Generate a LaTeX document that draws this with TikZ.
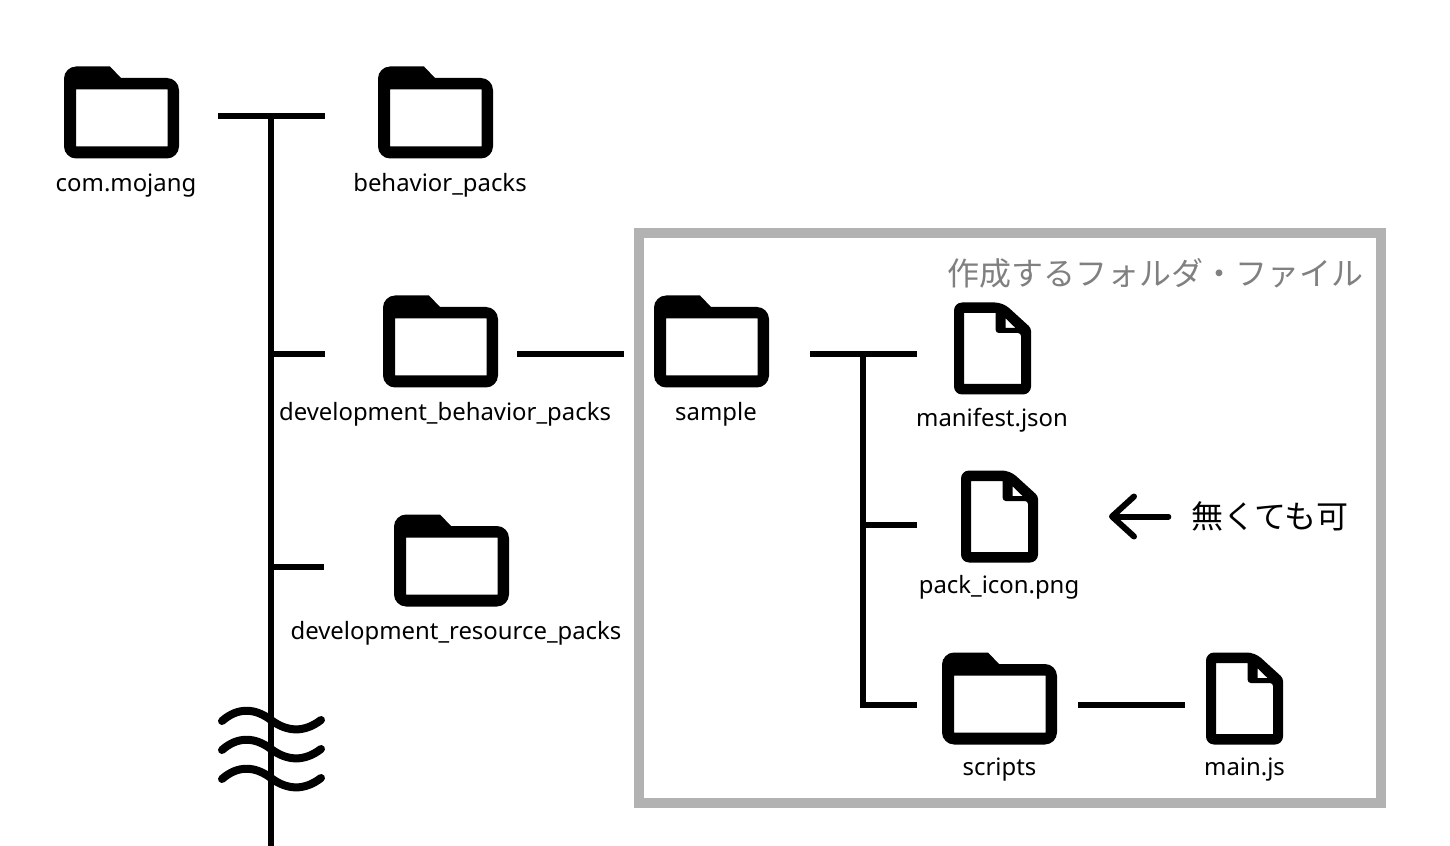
\documentclass[tikz,border=0pt]{standalone}
\usepackage{fontspec}
\setmainfont{Noto Sans}
\newfontfamily\jpfont{Noto Sans CJK JP}
\usetikzlibrary{arrows.meta}
\def\px{0.2mm}

\begin{document}
\begin{tikzpicture}[x=\px,y=-\px,line width=6*\px,
    lbl/.style={anchor=base,inner sep=0,font=\fontsize{13.6pt}{16pt}\selectfont},
    folder/.style={minimum width=115*\px,minimum height=92*\px,inner sep=0,outer sep=0,
        path picture={
            \fill[shift={(path picture bounding box.center)},even odd rule]
                (-45.5,-46) -- (-11.5,-46) -- (-0.5,-34.5) -- (45.5,-34.5)
                .. controls (52,-34.5) and (57.5,-29) .. (57.5,-22.5) -- (57.5,34)
                .. controls (57.5,40.5) and (52,46) .. (45.5,46) -- (-45.5,46)
                .. controls (-52,46) and (-57.5,40.5) .. (-57.5,34) -- (-57.5,-34)
                .. controls (-57.5,-40.5) and (-52,-46) .. (-45.5,-46) -- cycle
                (-45.5,-23) rectangle (46,34);
        }},
    document/.style={minimum width=77*\px,minimum height=92*\px,inner sep=0,outer sep=0,
        path picture={
            \fill[shift={(path picture bounding box.center)},even odd rule]
                [rounded corners=1.6mm] (-38.5,0) |- (10.5,-46) [rounded corners=0.6mm] -- (38.5,-20.5)
                [rounded corners=1.6mm] |- (-38.5,46) -- cycle
                [sharp corners] (-28.5,-35.5) -- (3.2,-35.5) [rounded corners=0.6mm] -- (3.2,-15.5)
                -- (28.5,-15.5) [sharp corners] -- (28.5,35.5) -- (-28.5,35.5) -- cycle
                (13.2,-30.2) -- (13.2,-20.5) -- (23,-20.5) -- cycle;
        }}]
\useasboundingbox (0,0) rectangle (1450,846);

% selection frame
\node[draw=black!30,line width=10*\px,minimum width=742*\px,minimum height=570*\px,inner sep=0] (frame) at (1010,518) {};
\node[anchor=east,inner sep=0,text=black!50,font=\jpfont\fontsize{18.2pt}{22pt}\selectfont] (title) at (1366,273) {作成するフォルダ・ファイル};

\node[folder] (root) at (121.5,112.5) {};
\node[folder] (behavior) at (435.5,112.5) {};
\node[folder] (devbehavior) at (440.5,341.5) {};
\node[folder] (devresource) at (451.5,560.5) {};
\node[folder] (sample) at (711.5,341.5) {};
\node[folder] (scripts) at (999.5,698.5) {};
\node[document] (manifest) at (992.5,348.5) {};
\node[document] (packicon) at (999.5,516.5) {};
\node[document] (mainjs) at (1244.5,698.5) {};

\node[lbl] (root-l) at (126,192) {com.mojang};
\node[lbl] (behavior-l) at (440,192) {behavior\_packs};
\node[lbl] (devbehavior-l) at (445,421) {development\_behavior\_packs};
\node[lbl] (devresource-l) at (456,639) {development\_resource\_packs};
\node[lbl] (sample-l) at (716,421) {sample};
\node[lbl] (manifest-l) at (992,426) {manifest.json};
\node[lbl] (packicon-l) at (999,593) {pack\_icon.png};
\node[lbl] (scripts-l) at (999.5,775) {scripts};
\node[lbl] (mainjs-l) at (1244.5,775) {main.js};
\node[inner sep=0,font=\jpfont\fontsize{18.2pt}{22pt}\selectfont] (note) at (1270,516.5) {無くても可};

% left tree
\coordinate (t0) at (271,116.5);
\coordinate (t1) at (271,354.5);
\coordinate (t2) at (271,566.5);
\coordinate (tend) at (271,846);
\draw (t0) -- (tend);
\draw[shorten <=39*\px,shorten >=53*\px] (root.east |- t0) -- (behavior.west |- t0);
\draw[shorten >=58*\px] (t1) -- (devbehavior.west |- t1);
\draw[shorten >=70*\px] (t2) -- (devresource.west |- t2);
\draw[shorten <=19*\px,shorten >=30*\px] (devbehavior.east |- t1) -- (sample.west |- t1);

% right tree
\coordinate (s0) at (863,354.5);
\coordinate (s1) at (863,524.5);
\coordinate (s2) at (863,705);
\draw[shorten <=41*\px,shorten >=37*\px] (sample.east |- s0) -- (manifest.west |- s0);
\draw[line cap=rect] (s0) -- (s2);
\draw[shorten >=44*\px] (s1) -- (packicon.west |- s1);
\draw[shorten >=25*\px] (s2) -- (scripts.west |- s2);
\draw[shorten <=21*\px,shorten >=21*\px] (scripts.east |- s2) -- (mainjs.west |- s2);

\draw[-{Straight Barb[length=22*\px,width=40*\px,round]},line cap=round,shorten <=20*\px,shorten >=71*\px] (note.west) -- (packicon.east);

% break marks across the trunk
\foreach \y in {0,29,58}
    \draw[line width=8*\px,line cap=round] (222,721+\y) .. controls (238,707+\y) and (255,708+\y) .. (271,720+\y)
        .. controls (287,732+\y) and (304,733+\y) .. (321,720+\y);
\end{tikzpicture}
\end{document}
